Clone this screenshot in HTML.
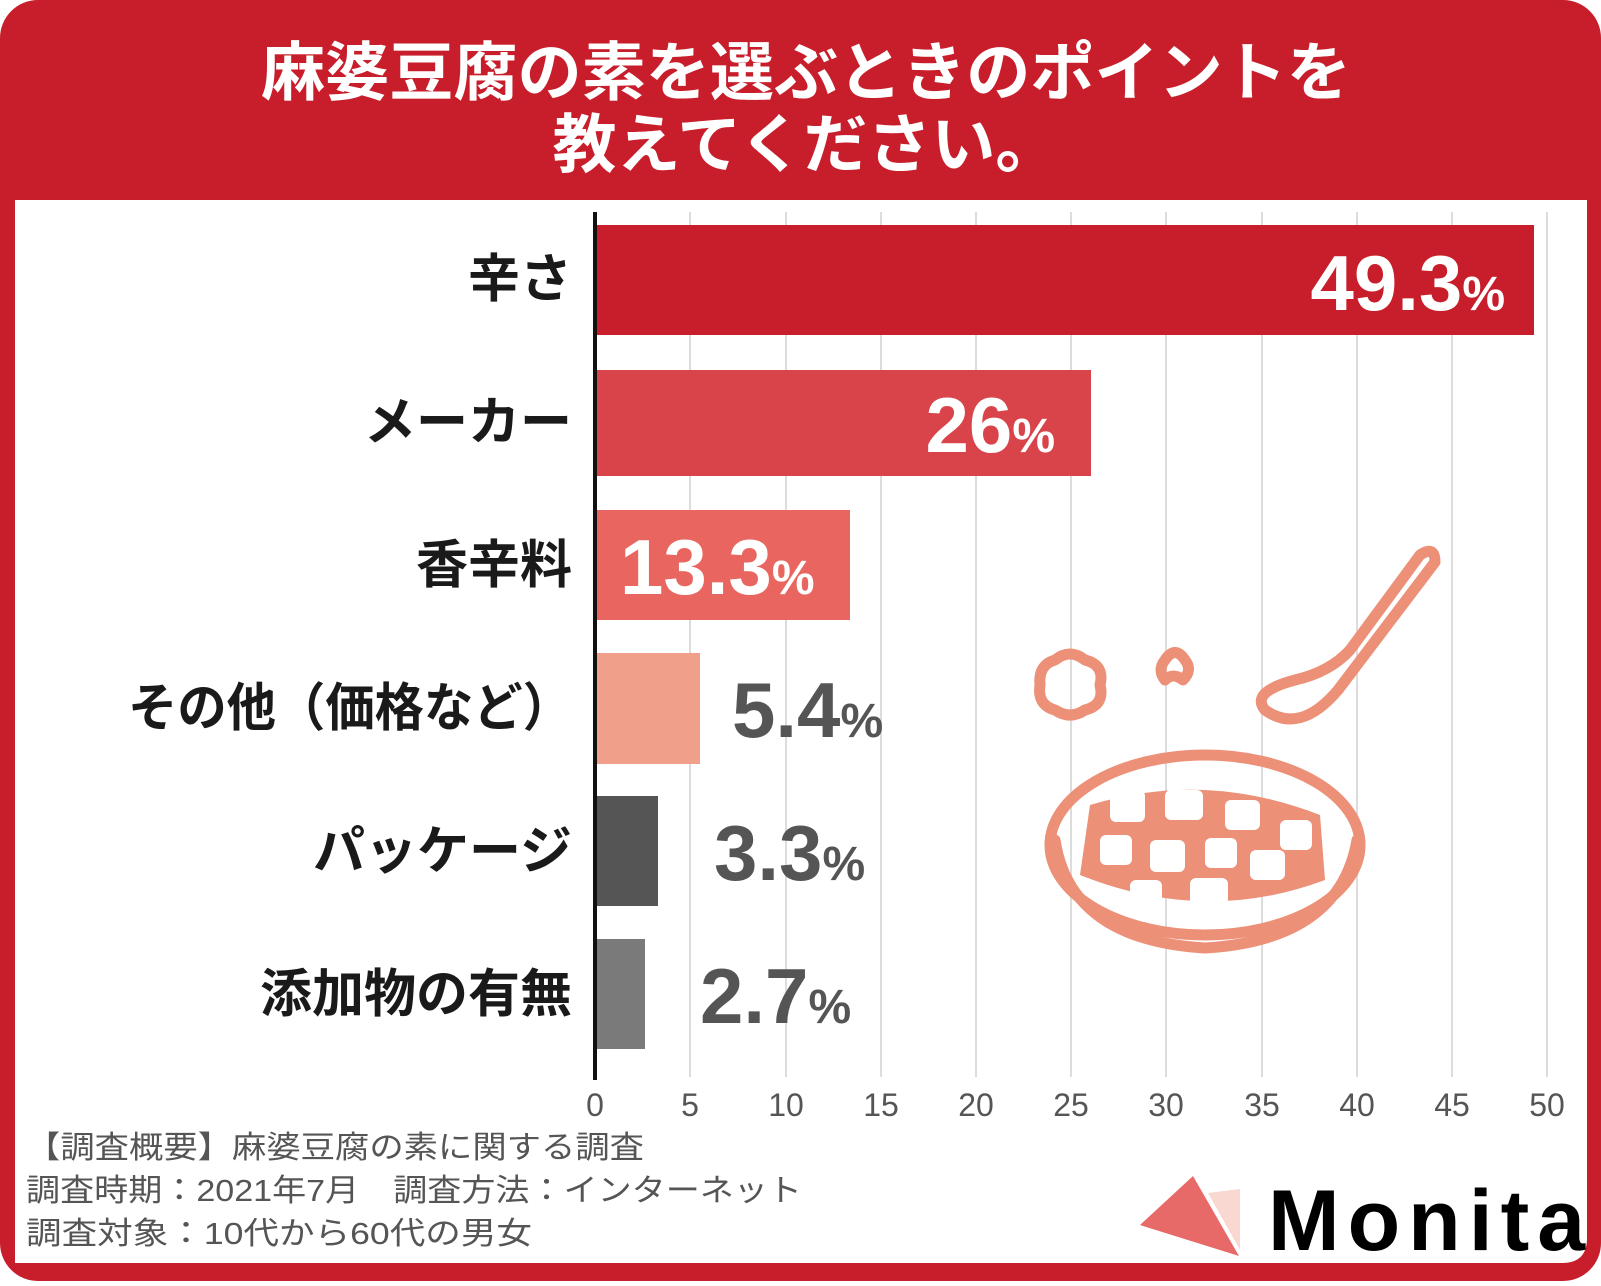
<!DOCTYPE html>
<html><head><meta charset="utf-8"><style>
html,body{margin:0;padding:0;}
body{width:1601px;height:1281px;overflow:hidden;background:#fff;font-family:"Liberation Sans","Noto Sans CJK JP",sans-serif;}
</style></head><body>
<svg width="1601" height="1281" viewBox="0 0 1601 1281" xmlns="http://www.w3.org/2000/svg" font-family="Liberation Sans, Noto Sans CJK JP, sans-serif">
<rect x="0" y="0" width="1601" height="1281" fill="#fff"/>
<rect x="0" y="0" width="1601" height="1281" rx="38" fill="#c81e2b"/>
<path d="M15 200 H1587 V1238 Q1587 1263 1562 1263 H15 Z" fill="#fff"/>
<g fill="#fff" font-weight="bold" font-size="64" text-anchor="middle">
<text x="806" y="95" textLength="1090" lengthAdjust="spacingAndGlyphs">麻婆豆腐の素を選ぶときのポイントを</text>
<text x="806" y="167">教えてください。</text>
</g>
<g stroke="#dcdcdc" stroke-width="2">
<line x1="690" y1="212" x2="690" y2="1077"/><line x1="786" y1="212" x2="786" y2="1077"/>
<line x1="881" y1="212" x2="881" y2="1077"/><line x1="976" y1="212" x2="976" y2="1077"/>
<line x1="1071" y1="212" x2="1071" y2="1077"/><line x1="1166" y1="212" x2="1166" y2="1077"/>
<line x1="1262" y1="212" x2="1262" y2="1077"/><line x1="1357" y1="212" x2="1357" y2="1077"/>
<line x1="1452" y1="212" x2="1452" y2="1077"/><line x1="1547" y1="212" x2="1547" y2="1077"/>
</g>
<g fill="none" stroke="#ec9078" stroke-width="11" stroke-linecap="round" stroke-linejoin="round">
<ellipse cx="1205" cy="845" rx="155" ry="90"/>
<path d="M1055 840 Q1070 940 1205 948 Q1340 940 1357 840"/>
<path d="M1435 562 L1338 690 Q1300 735 1265 710 Q1250 692 1295 680 Q1330 672 1350 650 L1420 555 Q1435 545 1435 562Z"/>
<path d="M1055 660 q15 -12 30 0 q20 5 15 25 q5 20 -15 25 q-15 10 -30 0 q-18 -5 -15 -25 q-2 -20 15 -25z"/>
<path d="M1165 660 q10 -15 20 0 q8 10 -2 20 q-10 -8 -18 0 q-8 -10 0 -20z"/>
</g>
<g fill="#ec9078">
<path d="M1090 805 Q1205 770 1320 815 L1325 880 Q1205 925 1080 875Z"/>
</g>
<g fill="#fff">
<rect x="1110" y="790" width="35" height="32" rx="6"/><rect x="1165" y="790" width="38" height="30" rx="6"/>
<rect x="1225" y="800" width="35" height="30" rx="6"/><rect x="1280" y="820" width="32" height="30" rx="6"/>
<rect x="1100" y="835" width="32" height="30" rx="6"/><rect x="1150" y="840" width="35" height="32" rx="6"/>
<rect x="1205" y="838" width="32" height="30" rx="6"/><rect x="1250" y="850" width="35" height="30" rx="6"/>
<rect x="1130" y="880" width="32" height="25" rx="6"/><rect x="1190" y="878" width="38" height="30" rx="6"/>
</g>
<rect x="597" y="225" width="937" height="110" fill="#c81e2b"/>
<rect x="597" y="370" width="494" height="106" fill="#d9434a"/>
<rect x="597" y="510" width="253" height="110" fill="#e8665f"/>
<rect x="597" y="653" width="103" height="111" fill="#f0a08a"/>
<rect x="597" y="796" width="61" height="110" fill="#555"/>
<rect x="597" y="939" width="48" height="110" fill="#7a7a7a"/>
<line x1="595" y1="212" x2="595" y2="1080" stroke="#111" stroke-width="4"/>
<g font-weight="bold" font-size="52" text-anchor="end" fill="#1a1a1a">
<text x="572" y="297">辛さ</text><text x="572" y="440">メーカー</text>
<text x="572" y="583">香辛料</text><text x="572" y="726" textLength="444" lengthAdjust="spacingAndGlyphs">その他（価格など）</text>
<text x="572" y="869">パッケージ</text><text x="572" y="1012">添加物の有無</text>
</g>
<g font-weight="bold" font-size="78">
<text x="1505" y="310" text-anchor="end" fill="#fff">49.3<tspan font-size="48">%</tspan></text>
<text x="1055" y="452" text-anchor="end" fill="#fff">26<tspan font-size="48">%</tspan></text>
<text x="620" y="594" fill="#fff">13.3<tspan font-size="48">%</tspan></text>
<text x="732" y="737" fill="#555">5.4<tspan font-size="48">%</tspan></text>
<text x="714" y="880" fill="#555">3.3<tspan font-size="48">%</tspan></text>
<text x="700" y="1023" fill="#555">2.7<tspan font-size="48">%</tspan></text>
</g>
<g font-size="32" fill="#555" text-anchor="middle">
<text x="595" y="1116">0</text><text x="690" y="1116">5</text><text x="786" y="1116">10</text>
<text x="881" y="1116">15</text><text x="976" y="1116">20</text><text x="1071" y="1116">25</text>
<text x="1166" y="1116">30</text><text x="1262" y="1116">35</text><text x="1357" y="1116">40</text>
<text x="1452" y="1116">45</text><text x="1547" y="1116">50</text>
</g>
<g font-size="31" fill="#555">
<text x="26" y="1158" textLength="618" lengthAdjust="spacingAndGlyphs">【調査概要】麻婆豆腐の素に関する調査</text>
<text x="26" y="1201" textLength="776" lengthAdjust="spacingAndGlyphs">調査時期：2021年7月　調査方法：インターネット</text>
<text x="26" y="1244" textLength="506" lengthAdjust="spacingAndGlyphs">調査対象：10代から60代の男女</text>
</g>
<polygon points="1208,1193 1240,1189 1240,1250" fill="#f8d8d0"/>
<polygon points="1193,1176 1140,1225 1239,1256" fill="#e86a68"/>
<text x="1268" y="1250" font-size="86" font-weight="bold" fill="#000" letter-spacing="8">Monita</text>
</svg>
</body></html>
